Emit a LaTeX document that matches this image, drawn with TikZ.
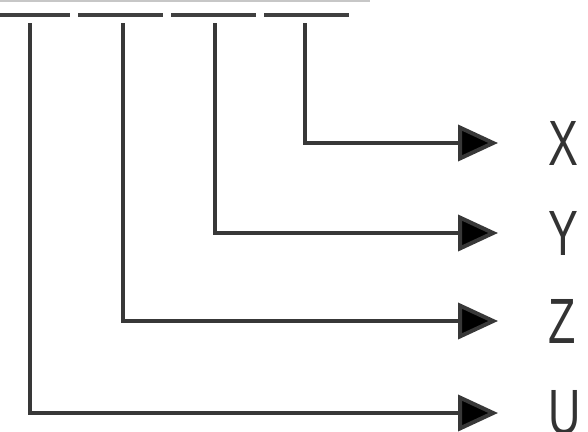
\documentclass[tikz,border=0pt]{standalone}
\usepackage{fontspec}
\usepackage{tikz}
\usetikzlibrary{arrows.meta, positioning}
\newfontfamily\labelfont{Liberation Sans}

\begin{document}
\begin{tikzpicture}[x=1pt, y=-1pt, line width=4pt,
    every node/.style={inner sep=0pt, anchor=west, text=black!80,
      font=\labelfont\fontsize{64}{64}\selectfont, xscale=0.7},
    feed/.style={draw=black!78, -{Triangle[length=40pt, width=36pt, fill=black]},
      shorten >=49pt}]
      \useasboundingbox (0, 0) rectangle (588, 431);
      \colorlet{rulegray}{black!22}
      % top rule and the segmented word
      \draw[rulegray, line width=2pt] (0, 0.5) -- (370, 0.5);
      \draw[black!75, dash pattern=on 85pt off 8pt] (-15, 15) -- (349, 15);
      \coordinate (t4) at (305, 23);
      \coordinate (t3) at (215, 23);
      \coordinate (t2) at (123, 23);
      \coordinate (t1) at (30, 23);
      \node (labX) at (547, 143) {X};
      \node (labY) at (547, 233) {Y};
      \node (labZ) at (547, 321) {Z};
      \node (labU) at (547, 413) {U};
      \draw[feed] (t4) |- (labX);
      \draw[feed] (t3) |- (labY);
      \draw[feed] (t2) |- (labZ);
      \draw[feed] (t1) |- (labU);
    \end{tikzpicture}
\end{document}
